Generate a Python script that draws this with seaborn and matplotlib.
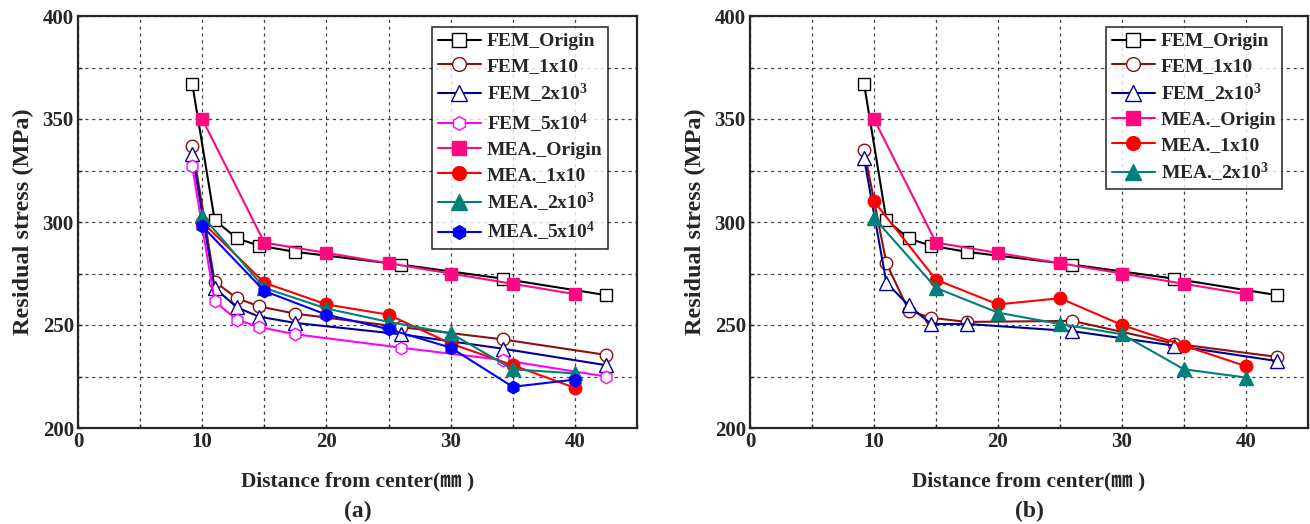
import numpy as np
import pandas as pd
import matplotlib
matplotlib.use("Agg")
import matplotlib.pyplot as plt
from matplotlib.ticker import MultipleLocator
import seaborn as sns

# ------------------------------------------------------------------
# data
# ------------------------------------------------------------------
fem_x = [9.2, 11, 12.8, 14.6, 17.5, 26, 34.2, 42.5]
mea_x = [10, 15, 20, 25, 30, 35, 40]

fem_origin = [367, 301, 292, 288.5, 285.5, 279.3, 272.5, 264.5]
mea_origin = [350, 290, 285, 280, 275, 270, 265]

# panel (a)
fem_1x10_a = [337, 271, 263, 259, 255.5, 249, 243, 235.5]
fem_2x10_3_a = [333, 268, 258.5, 254, 251, 245.5, 238.5, 230.5]
fem_5x10_4_a = [327, 261.5, 252.5, 249, 245.5, 239, 233, 225]
mea_1x10_a = [300, 270.5, 260, 255, 241, 230.5, 219.5]
mea_2x10_3_a = [303, 268, 258, 251.5, 246, 228.5, 226.5]
mea_5x10_4_a = [298, 266.5, 255, 248, 239, 220, 223.5]

# panel (b)
fem_1x10_b = [335, 280, 257, 253.5, 251.5, 252, 241, 234.5]
fem_2x10_3_b = [331, 270.5, 259.5, 250.5, 250.5, 247, 240, 232.5]
mea_1x10_b = [310, 272, 260, 263, 250, 240, 230]
mea_2x10_3_b = [302, 268, 256, 250.5, 245.5, 228.5, 224.5]

# ------------------------------------------------------------------
# style
# ------------------------------------------------------------------
sns.set_style("ticks")
plt.rcParams['font.family'] = ['Liberation Serif', 'Noto Sans CJK KR', 'DejaVu Sans']
plt.rcParams['font.weight'] = 'bold'
plt.rcParams['mathtext.fontset'] = 'custom'
plt.rcParams['mathtext.rm'] = 'Liberation Serif:bold'
plt.rcParams['mathtext.it'] = 'Liberation Serif:bold'
plt.rcParams['mathtext.bf'] = 'Liberation Serif:bold'

# (label, x, y, color, marker, filled)
series_a = [
    ('FEM_Origin', fem_x, fem_origin, 'black', 's', False),
    ('FEM_1x10', fem_x, fem_1x10_a, '#8B1010', 'o', False),
    ('FEM_2x10$^3$', fem_x, fem_2x10_3_a, '#000090', '^', False),
    ('FEM_5x10$^4$', fem_x, fem_5x10_4_a, '#FF00FF', 'h', False),
    ('MEA._Origin', mea_x, mea_origin, '#FF0880', 's', True),
    ('MEA._1x10', mea_x, mea_1x10_a, '#FF0000', 'o', True),
    ('MEA._2x10$^3$', mea_x, mea_2x10_3_a, '#008078', '^', True),
    ('MEA._5x10$^4$', mea_x, mea_5x10_4_a, '#0000FF', 'h', True),
]
series_b = [
    ('FEM_Origin', fem_x, fem_origin, 'black', 's', False),
    ('FEM_1x10', fem_x, fem_1x10_b, '#8B1010', 'o', False),
    ('FEM_2x10$^3$', fem_x, fem_2x10_3_b, '#000090', '^', False),
    ('MEA._Origin', mea_x, mea_origin, '#FF0880', 's', True),
    ('MEA._1x10', mea_x, mea_1x10_b, '#FF0000', 'o', True),
    ('MEA._2x10$^3$', mea_x, mea_2x10_3_b, '#008078', '^', True),
]

fig = plt.figure(figsize=(13.1, 5.24), dpi=100)
ax_a = fig.add_axes([78 / 1310, 1 - 428 / 524, 559 / 1310, 412 / 524])
ax_b = fig.add_axes([750 / 1310, 1 - 428 / 524, 558 / 1310, 412 / 524])


def draw_panel(ax, series, tag, leg_box):
    for label, xs, ys, col, mk, filled in series:
        sns.lineplot(x=xs, y=ys, ax=ax, color=col, lw=1.5, marker=mk,
                     markersize=9 if mk != '^' else 10,
                     markerfacecolor=col if filled else 'white',
                     markeredgecolor=col, markeredgewidth=1.0,
                     label=label)

    ax.set_xlim(0, 45)
    ax.set_ylim(200, 400)
    ax.xaxis.set_major_locator(MultipleLocator(10))
    ax.xaxis.set_minor_locator(MultipleLocator(5))
    ax.yaxis.set_major_locator(MultipleLocator(50))
    ax.yaxis.set_minor_locator(MultipleLocator(25))
    ax.grid(True, which='both', color='#444444', linestyle=(0, (2.5, 3)), lw=0.9)
    ax.set_axisbelow(True)
    ax.tick_params(which='both', direction='in', length=3, width=1, labelsize=15, pad=3)
    for s in ax.spines.values():
        s.set_linewidth(1.6)
        s.set_visible(True)
    for t in ax.get_xticklabels() + ax.get_yticklabels():
        t.set_fontweight('bold')

    ax.set_xlabel('Distance from center(\u339c )', fontsize=15.5, fontweight='bold', labelpad=14)
    ax.set_ylabel('Residual stress (MPa)', fontsize=17.5, fontweight='bold', labelpad=6)
    ax.text(0.5, -0.178, tag, transform=ax.transAxes, ha='center', va='top',
            fontsize=17, fontweight='bold')

    leg = ax.legend(loc='upper right', bbox_to_anchor=leg_box, fontsize=14,
                    frameon=True, fancybox=False, edgecolor='black',
                    handlelength=2.2, handletextpad=0.3, borderpad=0.3,
                    labelspacing=0.35, borderaxespad=0, markerscale=1.1)
    leg.get_frame().set_linewidth(1.2)
    for t in leg.get_texts():
        t.set_fontweight('bold')


draw_panel(ax_a, series_a, '(a)', ((608 - 78) / 559, 1 - 11 / 412))
draw_panel(ax_b, series_b, '(b)', ((1282 - 750) / 558, 1 - 11 / 412))

fig.savefig('out.png', dpi=100)
